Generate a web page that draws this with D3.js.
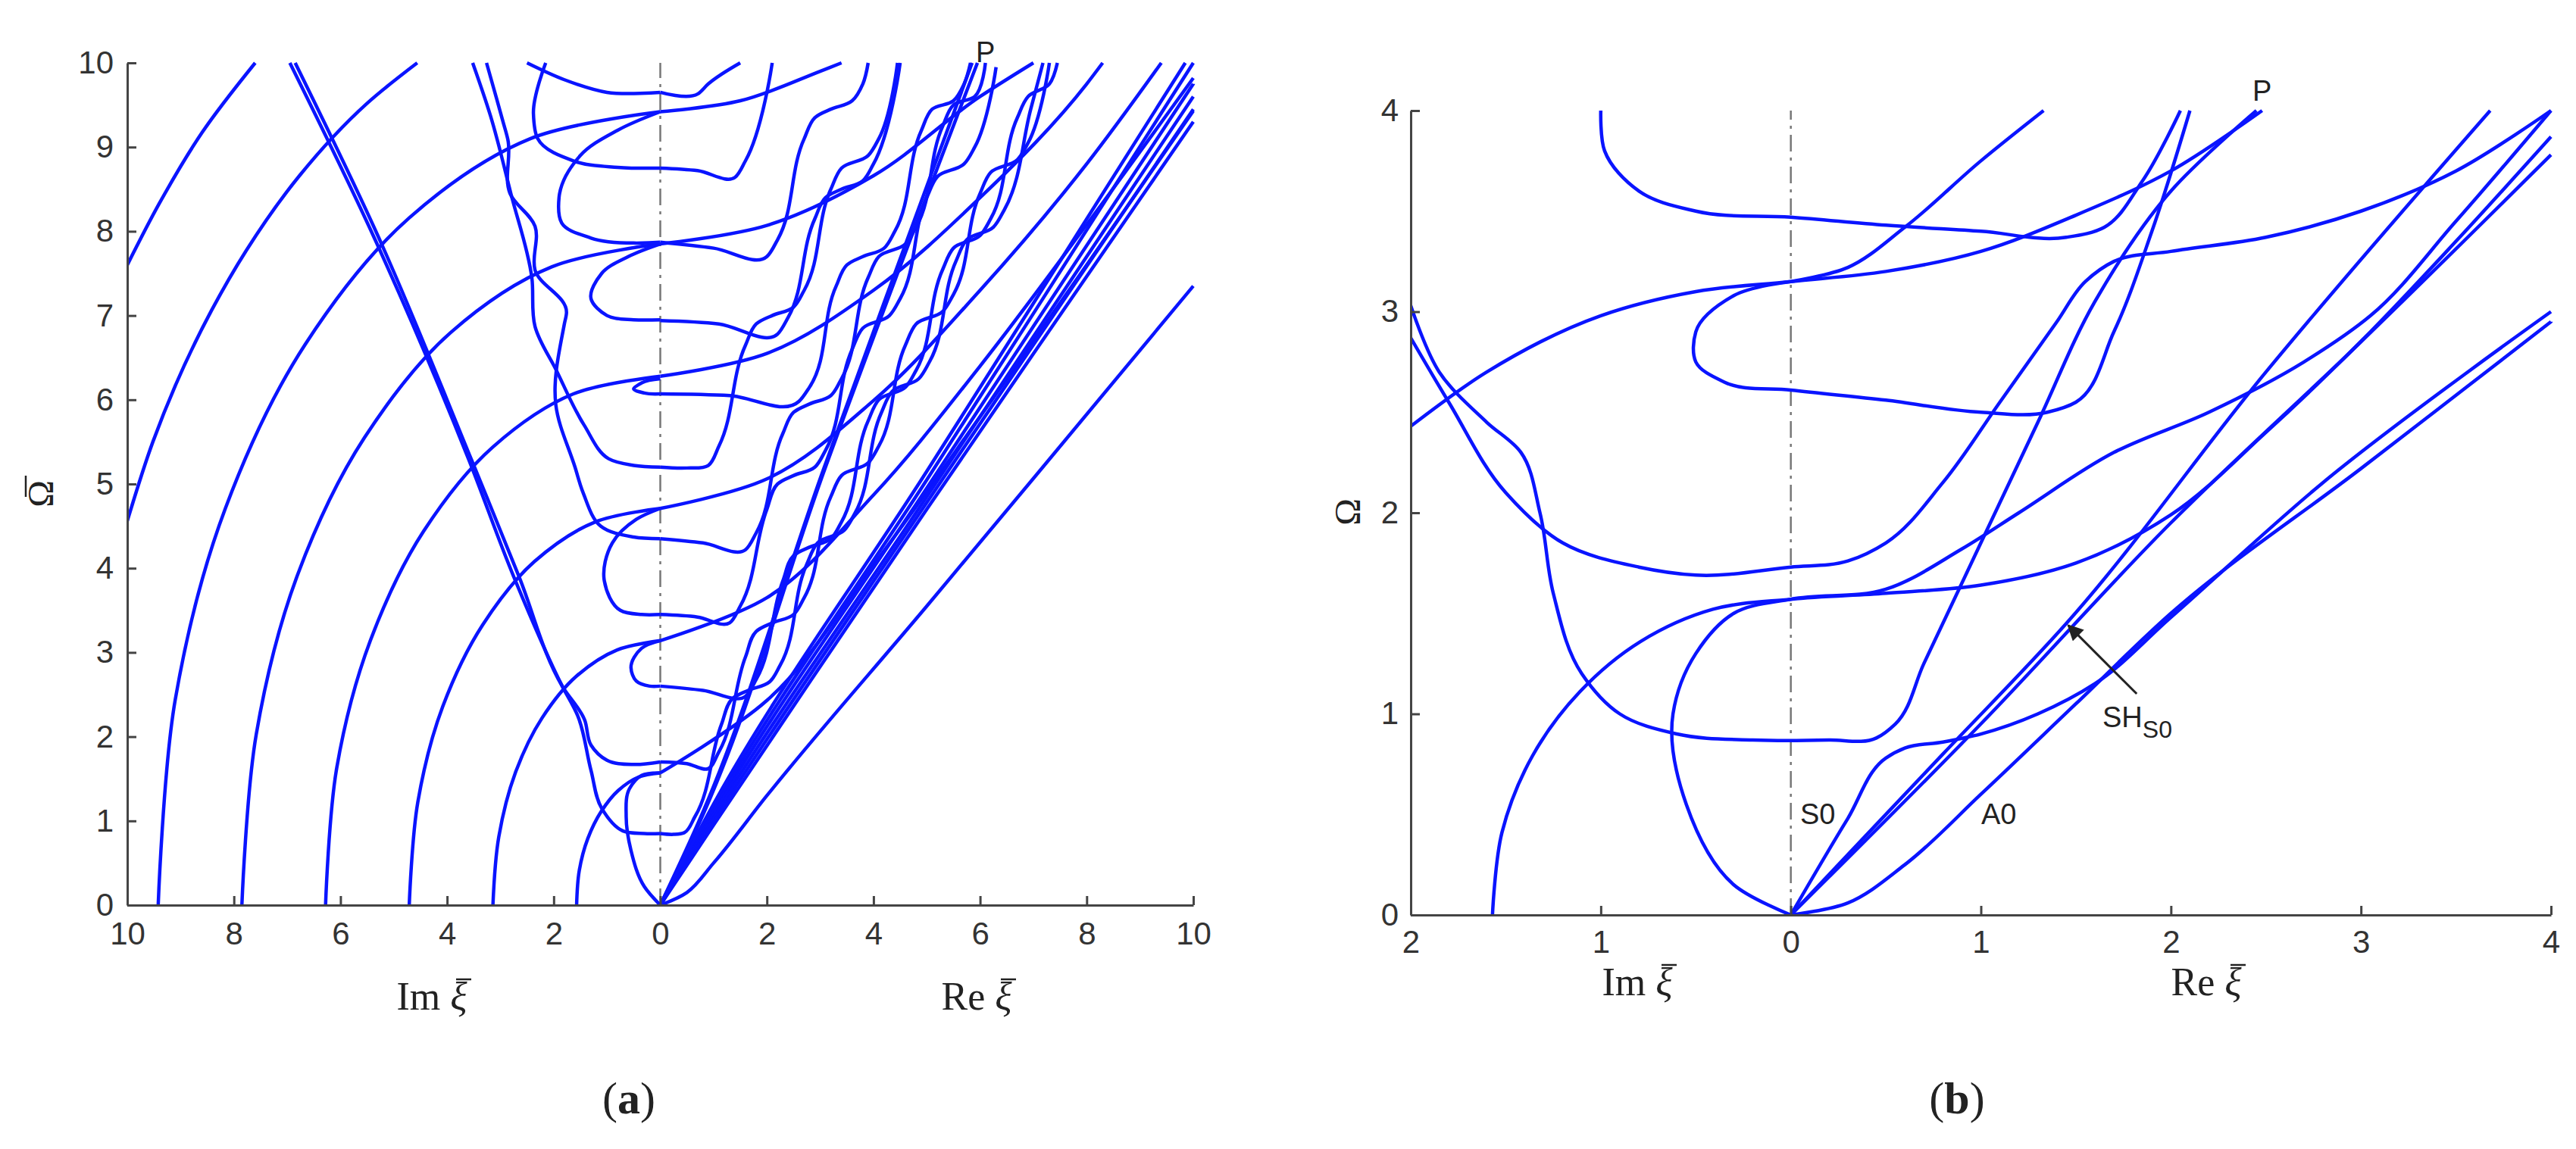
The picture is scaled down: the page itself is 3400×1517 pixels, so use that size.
<!DOCTYPE html>
<html><head><meta charset="utf-8">
<script src="https://cdn.jsdelivr.net/npm/d3@7"></script>
<style>body{margin:0;background:#fff}svg{display:block}</style>
</head><body>
<script>
// ---------- DATA (x < 0 : Im ξ, x > 0 : Re ξ) ----------
const ticksA_x = [-10,-8,-6,-4,-2,0,2,4,6,8,10];
const ticksA_y = [0,1,2,3,4,5,6,7,8,9,10];
const ticksB_x = [-2,-1,0,1,2,3,4];
const ticksB_y = [0,1,2,3,4];

// panel (a) SH arcs on Im side
const aArc1 = [[-1.57,0],[-1.52,0.41],[-1.36,0.79],[-1.11,1.11],[-0.79,1.36],[-0.41,1.52],[0,1.57]];
const aArc2 = [[-3.14,0],[-3.03,0.81],[-2.72,1.57],[-2.22,2.22],[-1.57,2.72],[-0.81,3.03],[0,3.14]];
const aArc3 = [[-4.71,0],[-4.55,1.22],[-4.08,2.36],[-3.33,3.33],[-2.36,4.08],[-1.22,4.55],[0,4.71]];
const aArc4 = [[-6.28,0],[-6.07,1.63],[-5.44,3.14],[-4.44,4.44],[-3.14,5.44],[-1.63,6.07],[0,6.28]];
const aArc5 = [[-7.85,0],[-7.58,2.03],[-6.8,3.93],[-5.55,5.55],[-3.93,6.8],[-2.03,7.58],[0,7.85]];
const aArc6 = [[-9.42,0],[-9.1,2.44],[-8.16,4.71],[-6.66,6.66],[-4.71,8.16],[-2.44,9.1],[0,9.42]];
const aArc7 = [[-10,4.56],[-9.52,5.5],[-8.42,7.06],[-7.77,7.77],[-6.77,8.66],[-5.5,9.52],[-4.56,10]];
const aArc8 = [[-10,7.6],[-9.4,8.33],[-8.6,9.17],[-7.6,10]];
// SH continuation on Re side
const aSH1 = [[0,1.57],[2,2.43],[4,4.04],[6,5.8],[8,7.6],[10,9.43]];
const aSH2 = [[0,3.14],[2,3.65],[4,4.87],[6,6.4],[8,8.08],[10,9.82]];
const aSH3 = [[0,4.71],[2,5.06],[4,5.99],[6,7.3],[8,8.8],[9.4,10]];
const aSH4 = [[0,6.28],[2,6.55],[4,7.3],[6,8.4],[8,9.75],[8.3,10]];
const aSH5 = [[0,7.85],[2,8.07],[4,8.66],[6,9.6],[7,10]];
const aSH6 = [[0,9.42],[1.5,9.55],[3,9.9],[3.4,10]];
// steep Im-side lines
const aSteep1 = [[-6.95,10],[-5.35,7.9],[-3.6,5.3],[-2.75,3.9],[-1.84,2.6],[-1.55,2.25],[-1.3,1.6],[-1.1,1.15],[-0.7,0.88],[-0.3,0.85],[0,0.85]];
const aSteep2 = [[-6.85,10],[-5.3,7.95],[-3.55,5.3],[-2.65,3.9],[-1.84,2.6],[-1.42,2.2],[-1.3,1.9],[-1.0,1.72],[-0.5,1.67],[0,1.7]];
// Im-side loops
const aLoop0 = [[0,0],[-0.3,0.22],[-0.55,0.65],[-0.64,1.05],[-0.58,1.38],[-0.35,1.54],[0,1.57]];
const aU26 = [[0,3.14],[-0.35,3.05],[-0.55,2.82],[-0.45,2.66],[-0.2,2.6],[0,2.6]];
const aU345 = [[0,4.71],[-0.45,4.58],[-0.9,4.3],[-1.05,3.85],[-0.75,3.5],[-0.35,3.45],[0,3.45]];
const aU435 = [[-3.26,10],[-2.95,9.3],[-2.86,9.09],[-2.82,8.45],[-2.35,8.06],[-2.35,7.54],[-1.76,7.03],[-1.8,6.9],[-1.96,5.94],[-1.6,5.2],[-1.45,4.9],[-1.12,4.5],[-0.5,4.37],[0,4.35]];
const aU52 = [[-3.52,10],[-3.19,9.38],[-2.8,8.44],[-2.41,7.45],[-2.35,6.87],[-1.95,6.35],[-1.43,5.7],[-0.97,5.3],[-0.5,5.22],[0,5.2]];
const aU607 = [[0,6.25],[-0.35,6.2],[-0.5,6.13],[-0.3,6.08],[0,6.07]];
const aU695 = [[0,7.85],[-0.6,7.7],[-1.1,7.5],[-1.3,7.2],[-1.0,7.0],[-0.5,6.95],[0,6.95]];
const aU787 = [[0,9.42],[-0.8,9.2],[-1.5,8.9],[-1.9,8.4],[-1.85,8.1],[-1.3,7.92],[0,7.87]];
const aU875 = [[-2.15,10],[-2.38,9.4],[-2.3,9.1],[-1.6,8.83],[-0.8,8.76],[0,8.75]];
const aU965 = [[-2.5,10],[-1.8,9.8],[-1,9.65],[0,9.65]];
// Re-side staircase (Lamb) branches
const aSt1 = [[0,0.85],[0.25,0.84],[0.45,0.86],[0.65,1.05],[1.15,2.15],[1.35,2.45],[1.65,2.55],[2.05,2.65],[2.25,2.85],[2.75,4.05],[2.95,4.3],[3.45,4.45],[3.65,4.65],[4.15,5.85],[4.35,6.1],[4.85,6.25],[5.05,6.45],[5.55,7.65],[5.75,7.9],[6.25,8.05],[6.45,8.25],[6.95,9.45],[7.18,10]];
const aSt2 = [[0,1.7],[0.5,1.68],[0.9,1.62],[1.1,1.82],[1.6,2.95],[1.8,3.25],[2.1,3.35],[2.5,3.45],[2.7,3.65],[3.2,4.85],[3.4,5.1],[3.9,5.25],[4.1,5.45],[4.6,6.65],[4.8,6.9],[5.3,7.05],[5.5,7.25],[6.0,8.45],[6.2,8.7],[6.7,8.85],[6.9,9.05],[7.3,10]];
const aSt3 = [[0,2.6],[0.8,2.55],[1.6,2.48],[1.8,2.68],[2.3,3.85],[2.5,4.15],[2.8,4.25],[3.2,4.35],[3.4,4.55],[3.9,5.75],[4.1,6.0],[4.6,6.15],[4.8,6.35],[5.3,7.55],[5.5,7.8],[6.0,7.95],[6.2,8.15],[6.7,9.35],[6.9,9.6],[7.3,9.75],[7.45,10]];
const aSt4 = [[0,3.45],[0.7,3.42],[1.3,3.35],[1.5,3.55],[2.0,4.7],[2.2,5.0],[2.5,5.1],[2.9,5.2],[3.1,5.4],[3.6,6.6],[3.8,6.85],[4.3,7.0],[4.5,7.2],[5.0,8.4],[5.2,8.65],[5.7,8.8],[5.9,9.0],[6.3,9.95]];
const aSt5 = [[0,4.35],[0.8,4.3],[1.6,4.22],[1.8,4.42],[2.3,5.6],[2.5,5.85],[2.8,5.95],[3.2,6.05],[3.4,6.25],[3.9,7.45],[4.1,7.7],[4.6,7.85],[4.8,8.05],[5.3,9.25],[5.5,9.5],[5.9,9.6],[6.1,10]];
const aSt6 = [[0,5.2],[0.5,5.19],[0.9,5.22],[1.1,5.45],[1.6,6.65],[1.8,6.9],[2.1,7.0],[2.5,7.1],[2.7,7.3],[3.2,8.5],[3.4,8.75],[3.9,8.9],[4.1,9.1],[4.45,10]];
const aSt7 = [[0,6.07],[1.3,6.05],[2.6,5.98],[2.8,6.15],[3.3,7.35],[3.5,7.6],[3.8,7.7],[4.2,7.8],[4.4,8.0],[4.9,9.2],[5.1,9.45],[5.5,9.55],[5.7,9.75],[5.82,10]];
const aSt8 = [[0,6.94],[1.1,6.9],[2.2,6.78],[2.4,6.98],[2.9,8.15],[3.1,8.4],[3.4,8.5],[3.8,8.6],[4.0,8.8],[4.5,10]];
const aSt9 = [[0,7.87],[1.0,7.8],[2.0,7.7],[2.2,7.9],[2.7,9.1],[2.9,9.35],[3.2,9.45],[3.6,9.55],[3.8,9.75],[3.9,10]];
const aSt10 = [[0,8.75],[0.7,8.72],[1.4,8.64],[1.6,8.84],[2.1,10]];
const aSt11 = [[0,9.65],[0.7,9.63],[0.9,9.75],[1.5,10]];
// lines from origin
const aP1 = [[0,0],[0.7,0.96],[3.06,5.17],[5.85,10]];
const aP2 = [[0,0],[0.75,1.0],[3.1,5.2],[5.95,10]];
const aB1 = [[0,0],[1,0.95],[5,4.7],[10,9.3]];
const aB2 = [[0,0],[1,1.0],[5,4.78],[10,9.45]];
const aB3 = [[0,0],[1,1.05],[5,4.85],[10,9.6]];
const aB4 = [[0,0],[1,1.1],[5,4.95],[10,9.75]];
const aB5 = [[0,0],[1,1.15],[5,5.05],[10,10]];
const aB6 = [[0,0],[1,1.2],[5,5.15],[9.85,10]];
const aA0 = [[0,0],[0.5,0.15],[1,0.5],[2,1.3],[5,3.55],[10,7.35]];

// panel (b)
const b1 = [[-1.57,0],[-1.52,0.41],[-1.36,0.79],[-1.11,1.11],[-0.79,1.36],[-0.41,1.52],[0,1.57],[0.5,1.6],[1.0,1.64],[1.5,1.75],[2.0,1.99],[2.5,2.4],[3.05,2.9],[3.5,3.35],[4,3.87]];
const b2 = [[0,0],[-0.3,0.15],[-0.55,0.55],[-0.62,1.0],[-0.5,1.3],[-0.3,1.5],[0,1.57],[0.5,1.62],[0.9,1.82],[1.2,2.0],[1.7,2.3],[2.2,2.5],[2.7,2.75],[3.05,2.98],[3.5,3.45],[4,4.0]];
const b3 = [[-2,2.43],[-1.6,2.7],[-1.0,2.98],[-0.5,3.1],[0,3.15],[0.5,3.2],[1.0,3.3],[1.5,3.48],[2.0,3.7],[2.48,4.0]];
const b4 = [[0,3.15],[0.3,3.22],[0.6,3.42],[1.0,3.75],[1.33,4.0]];
const b5 = [[0,3.15],[-0.3,3.08],[-0.5,2.9],[-0.5,2.75],[-0.35,2.65],[0,2.61],[0.5,2.56],[1.0,2.5],[1.35,2.5],[1.5,2.55],[1.7,2.9],[1.9,3.4],[2.1,4.0]];
const b6 = [[-1,4.0],[-0.98,3.8],[-0.8,3.6],[-0.5,3.5],[0,3.47],[0.5,3.43],[1.0,3.4],[1.45,3.37],[1.65,3.42],[1.85,3.65],[2.05,4.0]];
const b7 = [[-2,2.87],[-1.8,2.55],[-1.5,2.1],[-1.2,1.85],[-0.8,1.73],[-0.5,1.69],[0,1.73],[0.3,1.76],[0.5,1.85],[0.8,2.15],[1.1,2.55],[1.4,2.95],[1.55,3.15],[1.7,3.25],[2.0,3.3],[2.5,3.37],[3.0,3.5],[3.5,3.7],[4,4.0]];
const b8 = [[-2,3.03],[-1.85,2.7],[-1.6,2.45],[-1.42,2.3],[-1.32,2.0],[-1.25,1.6],[-1.1,1.2],[-0.9,1.0],[-0.6,0.9],[-0.2,0.87],[0.2,0.87],[0.45,0.88],[0.55,0.95],[0.7,1.25],[1.0,1.85],[1.3,2.45],[1.6,3.05],[2.0,3.6],[2.45,4.0]];
const bS0 = [[0,0],[0.3,0.48],[0.5,0.78],[0.6,0.83],[0.8,0.86],[1.0,0.9],[1.3,1.0],[1.6,1.15],[2.0,1.48],[2.8,2.15],[4,3.0]];
const bSH = [[0,0],[0.8,0.8],[1.45,1.45],[2.5,2.7],[3.68,4.0]];
const bL = [[0,0],[1.0,0.95],[2.0,1.95],[3.0,2.85],[4,3.78]];
const bA0 = [[0,0],[0.3,0.06],[0.6,0.25],[1.0,0.6],[1.5,1.05],[2.0,1.5],[3.0,2.22],[4,2.95]];

const curvesA = [aArc1,aArc2,aArc3,aArc4,aArc5,aArc6,aArc7,aArc8,aSH1,aSH2,aSH3,aSH4,aSH5,aSH6,aSteep1,aSteep2,aLoop0,aU26,aU345,aU435,aU52,aU607,aU695,aU787,aU875,aU965,aSt1,aSt2,aSt3,aSt4,aSt5,aSt6,aSt7,aSt8,aSt9,aSt10,aSt11,aP1,aP2,aB1,aB2,aB3,aB4,aB5,aB6,aA0];
const curvesB = [b1,b2,b3,b4,b5,b6,b7,b8,bS0,bSH,bL,bA0];

// ---------- DRAW ----------
const W=3400,H=1517;
const svg=d3.select("body").append("svg").attr("width",W).attr("height",H);
const blue="#0a14ff", axc="#444";

function panel(cfg){
  const x=d3.scaleLinear().domain(cfg.xd).range(cfg.xr);
  const y=d3.scaleLinear().domain(cfg.yd).range(cfg.yr);
  const g=svg.append("g");
  const clipId="clip"+cfg.id;
  svg.append("clipPath").attr("id",clipId).append("rect")
    .attr("x",cfg.xr[0]).attr("y",cfg.yr[1]-4).attr("width",cfg.xr[1]-cfg.xr[0]+4).attr("height",cfg.yr[0]-cfg.yr[1]+4);
  g.append("line").attr("x1",x(0)).attr("x2",x(0)).attr("y1",y(0)).attr("y2",y(cfg.yd[1]))
    .attr("stroke","#777").attr("stroke-width",2.5).attr("stroke-dasharray","22,8,4,8");
  const line=d3.line().x(d=>x(d[0])).y(d=>y(d[1])).curve(d3.curveCatmullRom.alpha(1));
  g.append("g").attr("clip-path",`url(#${clipId})`).selectAll("path").data(cfg.curves).join("path")
    .attr("d",line).attr("fill","none").attr("stroke",blue).attr("stroke-width",4.5).attr("stroke-linejoin","round");
  const ax=d3.axisBottom(x).tickValues(cfg.tx).tickFormat(d=>Math.abs(d)).tickSizeInner(-12).tickSizeOuter(0).tickPadding(cfg.pad);
  const gx=g.append("g").attr("transform",`translate(0,${y(0)})`).call(ax);
  const ay=d3.axisLeft(y).tickValues(cfg.ty).tickFormat(d=>d).tickSizeInner(-12).tickSizeOuter(0).tickPadding(cfg.pad-4);
  const gy=g.append("g").attr("transform",`translate(${x(cfg.xd[0])},0)`).call(ay);
  [gx,gy].forEach(a=>{a.selectAll("path,line").attr("stroke",axc).attr("stroke-width",3);
    a.selectAll("text").attr("font-family","Liberation Sans, Arial").attr("font-size",42).attr("fill","#333");});
  return {x,y,g};
}

const A=panel({id:"a",xd:[-10,10],xr:[168,1575],yd:[0,10],yr:[1195,83],tx:ticksA_x,ty:ticksA_y,curves:curvesA,pad:22});
const B=panel({id:"b",xd:[-2,4],xr:[1862,3367],yd:[0,4],yr:[1208,146],tx:ticksB_x,ty:ticksB_y,curves:curvesB,pad:20});

function serif(x,y,size,rot){
  const t=svg.append("text").attr("x",x).attr("y",y).attr("text-anchor","middle")
   .attr("font-family","Liberation Serif, Times New Roman, serif").attr("font-size",size).attr("fill","#222");
  if(rot) t.attr("transform",`rotate(-90,${x},${y})`);
  return t;
}
function xiLabel(cx,cy,pre){
  const t=serif(cx,cy,52);
  t.append("tspan").text(pre+" ");
  t.append("tspan").attr("font-style","italic").text("ξ");
  svg.append("line").attr("x1",cx+32).attr("x2",cx+52).attr("y1",cy-40).attr("y2",cy-40).attr("stroke","#222").attr("stroke-width",2.5);
}
xiLabel(570,1333,"Im"); xiLabel(1289,1333,"Re");
xiLabel(2161,1314,"Im"); xiLabel(2912,1314,"Re");
serif(70,652,48,true).text("Ω");
svg.append("line").attr("x1",34).attr("x2",34).attr("y1",628).attr("y2",656).attr("stroke","#222").attr("stroke-width",2.5);
serif(1795,676,48,true).text("Ω");
const ta=serif(830,1470,60); ta.append("tspan").text("("); ta.append("tspan").attr("font-weight","bold").text("a"); ta.append("tspan").text(")");
const tb=serif(2583,1470,60); tb.append("tspan").text("("); tb.append("tspan").attr("font-weight","bold").text("b"); tb.append("tspan").text(")");

function sans(x,y,txt,size){return svg.append("text").attr("x",x).attr("y",y).attr("font-family","Liberation Sans, Arial").attr("font-size",size).attr("fill","#222").text(txt);}
sans(1288,82,"P",38);
sans(2973,133,"P",38);
sans(2376,1088,"S0",38);
sans(2615,1088,"A0",38);
const sh=sans(2775,960,"SH",38); sh.append("tspan").attr("font-size",32).attr("dy",14).text("S0");
svg.append("defs").append("marker").attr("id","arr").attr("viewBox","0 0 10 10").attr("refX",9).attr("refY",5)
  .attr("markerWidth",7).attr("markerHeight",7).attr("orient","auto").append("path").attr("d","M0,0L10,5L0,10z").attr("fill","#222");
svg.append("line").attr("x1",B.x(1.82)).attr("y1",B.y(1.1)).attr("x2",B.x(1.46)).attr("y2",B.y(1.44))
  .attr("stroke","#222").attr("stroke-width",3).attr("marker-end","url(#arr)");
</script>
</body></html>
